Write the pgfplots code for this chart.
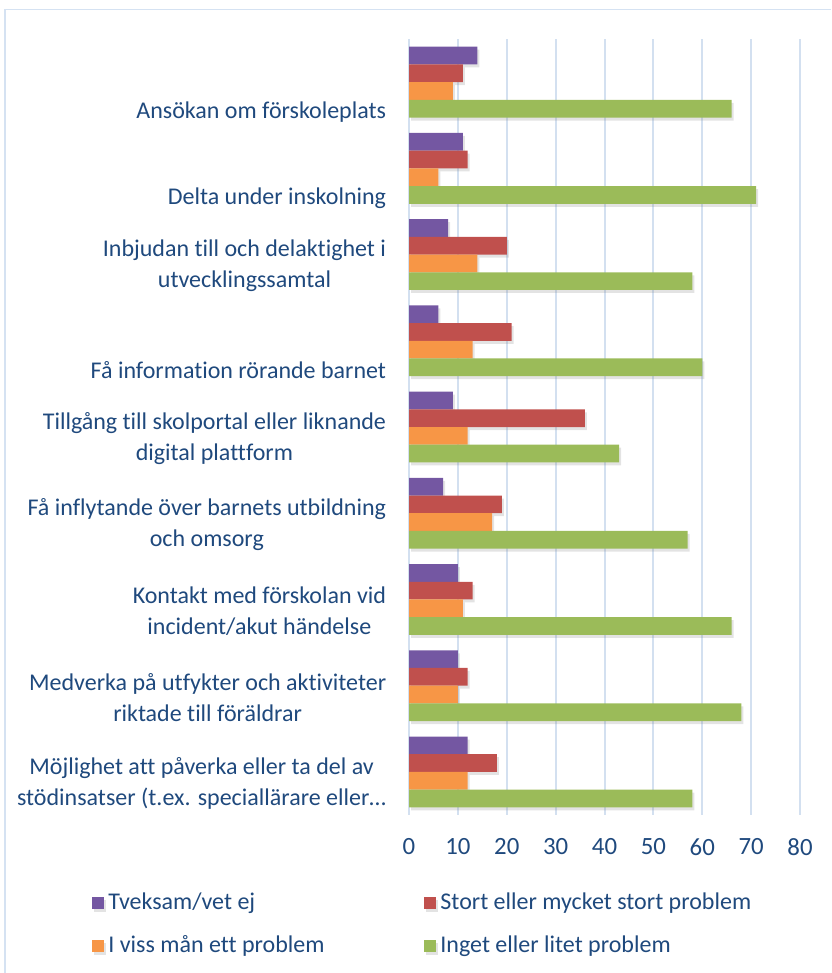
\documentclass[border=0pt]{standalone}
\usepackage{pgfplots}
\pgfplotsset{compat=1.18}
\usepackage{pgfplotstable}
\usepackage{fontspec}
\setmainfont{Carlito}[Ligatures=NoCommon]
\usetikzlibrary{shadows}
\definecolor{cpurple}{HTML}{7457A2}
\definecolor{cred}{HTML}{C0504D}
\definecolor{corange}{HTML}{F79646}
\definecolor{cgreen}{HTML}{9BBB59}
\definecolor{ctext}{HTML}{1F497D}
\definecolor{cgrid}{HTML}{D3E0F0}
\definecolor{cframe}{HTML}{D5E2F2}
\pgfplotstableread{
idx tve stort viss inget
0 14 11 9 66
1 11 12 6 71
2 8 20 14 58
3 6 21 13 60
4 9 36 12 43
5 7 19 17 57
6 10 13 11 66
7 10 12 10 68
8 12 18 12 58
}\datatable
\begin{document}
\begin{tikzpicture}
\useasboundingbox (0pt,0pt) rectangle (415.5pt,-486.5pt);
\draw[cframe, line width=0.6pt] (2.5pt,-486.5pt) -- (2.5pt,-4.75pt) -- (415.5pt,-4.75pt);
\begin{axis}[
  scale only axis,
  width=195.5pt, height=388pt,
  at={(204.5pt,-407.5pt)}, anchor=south west,
  xbar=0pt, bar width=8.85pt,
  xmin=0, xmax=80, ymin=-0.5, ymax=8.5,
  y dir=reverse,
  xtick={0,10,...,80},
  ytick={0,...,8},
  yticklabels={
    {\strut\\Ansökan om förskoleplats},
    {\strut\\Delta under inskolning},
    {Inbjudan till och delaktighet i\\utvecklingssamtal},
    {\strut\\Få information rörande barnet},
    {Tillgång till skolportal eller liknande\\digital plattform},
    {Få inflytande över barnets utbildning\\och omsorg},
    {Kontakt med förskolan vid\\incident/akut händelse},
    {Medverka på utfykter och aktiviteter\\riktade till föräldrar},
    {Möjlighet att påverka eller ta del av\\stödinsatser (t.ex. speciallärare eller…}
  },
  axis line style={draw=none},
  tick style={draw=none},
  xmajorgrids=true,
  major grid style={cgrid, line width=1pt},
  /pgf/number format/assume math mode=true,
  yticklabel style={align=center, font=\fontsize{12}{15.5}\selectfont, text=ctext, anchor=east, inner sep=0pt, yshift=-5.8pt},
  yticklabel shift=7pt,
  xticklabel style={font=\fontsize{12.4}{15}\selectfont, text=ctext, anchor=north, inner sep=0pt},
  xticklabel shift=11.5pt,
  legend columns=2,
  legend cell align=left,
  legend image code/.code={\fill[#1,draw=none] (0pt,-3pt) rectangle (6pt,3pt);},
  legend style={
    at={(-0.8107,-0.0977)}, anchor=north west,
    draw=none, fill=none, inner sep=0pt,
    font=\fontsize{12}{14}\selectfont, text=ctext,
    nodes={inner sep=0pt, text height=9pt, text depth=3pt},
    row sep=9.5pt,
    /tikz/every odd column/.append style={column sep=2pt},
    /tikz/every even column/.append style={column sep=8pt},
  },
  every axis plot/.append style={draw=none, drop shadow={shadow xshift=1pt, shadow yshift=-1.5pt, opacity=0.22}},
]
\addplot[fill=cpurple, bar shift=13.275pt] table[x=tve, y=idx] {\datatable};
\addplot[fill=cred, bar shift=4.425pt] table[x=stort, y=idx] {\datatable};
\addplot[fill=corange, bar shift=-4.425pt] table[x=viss, y=idx] {\datatable};
\addplot[fill=cgreen, bar shift=-13.275pt] table[x=inget, y=idx] {\datatable};
\legend{\makebox[150pt][l]{Tveksam/vet ej}, Stort eller mycket stort problem, \makebox[150pt][l]{I viss mån ett problem}, Inget eller litet problem}
\end{axis}
\end{tikzpicture}
\end{document}
